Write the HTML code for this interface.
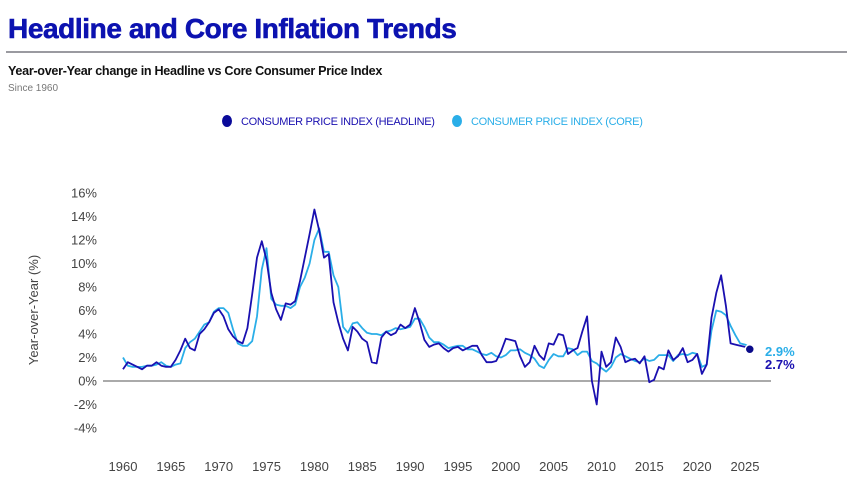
<!DOCTYPE html>
<html><head><meta charset="utf-8"><style>
body{margin:0;background:#fff;font-family:"Liberation Sans",sans-serif;}
#wrap{position:relative;width:847px;height:498px;overflow:hidden;}
.t{position:absolute;white-space:nowrap;}
</style></head><body>
<div id="wrap">
<div class="t" style="left:8px;top:13px;font-size:28px;font-weight:900;color:#0c12b0;letter-spacing:-0.4px;-webkit-text-stroke:0.6px #0c12b0;">Headline and Core Inflation Trends</div>
<div style="position:absolute;left:6px;top:51px;width:841px;height:2px;background:#9a9aa0;"></div>
<div class="t" style="left:8px;top:64px;font-size:12.6px;font-weight:bold;color:#111;letter-spacing:-0.3px;">Year-over-Year change in Headline vs Core Consumer Price Index</div>
<div class="t" style="left:8px;top:83px;font-size:10px;color:#777;">Since 1960</div>
<svg id="chart" width="847" height="498" style="position:absolute;left:0;top:0"></svg>
</div>
<script>
const startYear=1960, step=0.5;
const headline=[1.0,1.6,1.4,1.2,1.0,1.3,1.3,1.6,1.3,1.2,1.2,1.8,2.6,3.6,2.8,2.6,4.0,4.4,5.0,5.8,6.1,5.5,4.4,3.8,3.4,3.2,4.5,7.4,10.5,11.9,10.3,7.5,6.1,5.2,6.6,6.5,6.8,8.5,10.5,12.5,14.6,12.8,10.5,10.8,6.7,5.0,3.6,2.6,4.6,4.2,3.6,3.3,1.6,1.5,3.7,4.2,3.9,4.1,4.8,4.5,4.8,6.2,5.0,3.5,2.9,3.1,3.2,2.8,2.5,2.8,2.9,2.6,2.8,3.0,3.0,2.2,1.6,1.6,1.7,2.5,3.6,3.5,3.4,2.1,1.2,1.6,3.0,2.2,1.8,3.2,3.1,4.0,3.9,2.3,2.6,2.8,4.2,5.5,0.0,-2.0,2.5,1.2,1.6,3.7,2.9,1.6,1.8,1.9,1.5,2.1,-0.1,0.1,1.2,1.0,2.6,1.8,2.1,2.8,1.6,1.8,2.3,0.6,1.4,5.4,7.5,9.0,6.4,3.2,3.1,3.0,2.9,2.7];
const core=[2.0,1.3,1.2,1.2,1.2,1.3,1.3,1.4,1.6,1.3,1.2,1.4,1.5,2.8,3.3,3.6,4.2,4.8,5.0,5.9,6.2,6.2,5.8,4.4,3.2,3.0,3.0,3.4,5.5,9.5,11.3,7.0,6.5,6.4,6.4,6.2,6.5,8.0,8.8,10.0,12.0,13.0,11.0,11.0,9.0,8.0,4.6,4.1,4.9,5.0,4.5,4.1,4.0,4.0,3.9,4.2,4.3,4.5,4.4,4.5,4.6,5.3,5.3,4.6,3.7,3.3,3.3,3.1,2.8,2.9,3.0,3.0,2.7,2.7,2.5,2.3,2.2,2.4,2.1,2.0,2.2,2.6,2.6,2.7,2.4,2.2,1.9,1.3,1.1,1.8,2.3,2.1,2.1,2.8,2.7,2.2,2.5,2.5,1.7,1.5,1.1,0.8,1.2,2.0,2.3,2.1,1.9,1.7,1.6,1.9,1.7,1.8,2.2,2.2,2.2,1.7,2.2,2.3,2.2,2.4,2.3,1.2,1.4,4.3,6.0,5.9,5.6,4.7,3.9,3.2,3.1,2.9];
const yTicks=[16,14,12,10,8,6,4,2,0,-2,-4];
const xTicks=[1960,1965,1970,1975,1980,1985,1990,1995,2000,2005,2010,2015,2020,2025];
const NS="http://www.w3.org/2000/svg";
const svg=document.getElementById('chart');
const X=y=>123+(y-1960)*(622/65);
const Y=v=>381-v*11.75;
function mk(t,a){const e=document.createElementNS(NS,t);for(const k in a)e.setAttribute(k,a[k]);svg.appendChild(e);return e;}
yTicks.forEach(v=>{const e=mk('text',{x:97,y:Y(v)+4.5,'text-anchor':'end','font-size':13,fill:'#444'});e.textContent=v+'%';

});
xTicks.forEach(v=>{const e=mk('text',{x:X(v),y:471,'text-anchor':'middle','font-size':13,fill:'#444'});e.textContent=v;

});
const yt=mk('text',{x:38,y:310,transform:'rotate(-90 38 310)','text-anchor':'middle','font-size':13,fill:'#444'});yt.textContent='Year-over-Year (%)';


const zl=mk('line',{x1:103,x2:771,y1:Y(0),y2:Y(0),stroke:'#777','stroke-width':1.2});


function path(arr){return arr.map((v,i)=>(i?'L':'M')+X(startYear+i*step).toFixed(1)+','+Y(v).toFixed(1)).join('');}
const pc=mk('path',{d:path(core),fill:'none',stroke:'#2aaee8','stroke-width':1.8,'stroke-linejoin':'round'});


const ph=mk('path',{d:path(headline),fill:'none',stroke:'#1a10b0','stroke-width':1.8,'stroke-linejoin':'round'});


const li=headline.length-1, lx=X(startYear+li*step);
const dot=mk('circle',{cx:lx,cy:Y(headline[li]),r:4.5,fill:'#0a0a8a',stroke:'#fff','stroke-width':1.5});


const l1=mk('text',{x:765,y:356,'font-size':13,'font-weight':'bold',fill:'#2aaee8'});l1.textContent=core[li]+'%';


const l2=mk('text',{x:765,y:369,'font-size':13,'font-weight':'bold',fill:'#1a10b0'});l2.textContent=headline[li]+'%';


const leg=[[227,'#0a0a9a','CONSUMER PRICE INDEX (HEADLINE)','#1a10b0'],[457,'#2aaee8','CONSUMER PRICE INDEX (CORE)','#2aaee8']];
leg.forEach(l=>{const c=mk('ellipse',{cx:l[0],cy:121,rx:5,ry:6,fill:l[1]});


const t=mk('text',{x:l[0]+14,y:125,'font-size':11,fill:l[3],'letter-spacing':'-0.3'});t.textContent=l[2];

});
</script>
</body></html>
